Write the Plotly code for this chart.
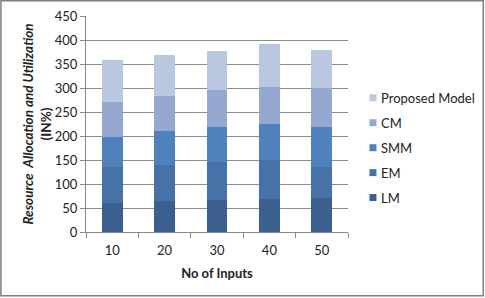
import plotly.graph_objects as go

categories = ["10", "20", "30", "40", "50"]
series_names = ["LM", "EM", "SMM", "CM", "Proposed Model"]
lm = [60, 65, 67, 69, 70]
em = [75, 75, 79, 81, 65]
smm = [63, 70, 73, 74, 84]
cm = [73, 74, 76, 79, 81]
pm = [87, 85, 83, 89, 80]
colors = ["#3B5F8E", "#4672A8", "#4F81BD", "#95A9D0", "#B9C7E0"]
y_ticks = [0, 50, 100, 150, 200, 250, 300, 350, 400, 450]

W, H = 485, 298
L, R, T, B = 86, 136.5, 16, 65.5
pw, ph = W - L - R, H - T - B


def px_x(x):
    return (x - L) / pw


def px_y(y):
    return (H - B - y) / ph


fig = go.Figure()
for name, vals, col in zip(series_names, [lm, em, smm, cm, pm], colors):
    fig.add_trace(go.Bar(x=categories, y=vals, name=name, showlegend=False,
                         marker=dict(color=col, line=dict(width=0))))

font = "Lato, 'Open Sans', sans-serif"

# Manual legend (top entry = last series)
shapes = []
annotations = []
legend_y = [198, 173, 148, 123, 98]
for name, col, yc in zip(series_names, colors, legend_y):
    shapes.append(dict(type="rect", xref="paper", yref="paper",
                       x0=px_x(370), x1=px_x(377), y0=px_y(yc + 3.5), y1=px_y(yc - 3.5),
                       fillcolor=col, line=dict(width=0)))
    annotations.append(dict(xref="paper", yref="paper", x=px_x(380), y=px_y(yc),
                            xanchor="left", yanchor="middle", showarrow=False,
                            text=name, font=dict(size=13, color="#222222")))

shapes.append(dict(type="rect", xref="paper", yref="paper",
                   x0=px_x(0.75), x1=px_x(W - 1), y0=px_y(H - 1.5), y1=px_y(0.75),
                   line=dict(color="#7f7f7f", width=1.5), fillcolor="rgba(0,0,0,0)", layer="above"))

fig.update_layout(
    width=W, height=H, barmode="stack", bargap=0.6, showlegend=False,
    margin=dict(l=L, r=R, t=T, b=B, autoexpand=False),
    paper_bgcolor="white", plot_bgcolor="white",
    font=dict(family=font, size=13, color="#222222"),
    xaxis=dict(showline=True, linecolor="#888888", linewidth=1, ticks="outside",
               tickson="boundaries", ticklen=5, tickcolor="#888888", ticklabelstandoff=6,
               tickfont=dict(size=13),
               title=dict(text="<b>No of Inputs</b>", font=dict(size=13), standoff=12)),
    yaxis=dict(range=[0, 450], tickvals=y_ticks, showline=True, linecolor="#888888", linewidth=1,
               ticks="outside", ticklen=5, tickcolor="#888888", showgrid=True, gridcolor="#8c8c8c",
               gridwidth=1, zeroline=False, tickfont=dict(size=13),
               title=dict(text="<b><i>Resource  Allocation and Utilization</i></b><br><b>(IN%)</b>",
                          font=dict(size=13.5), standoff=0)),
    shapes=shapes,
    annotations=annotations,
)
fig.write_html("out.html")
